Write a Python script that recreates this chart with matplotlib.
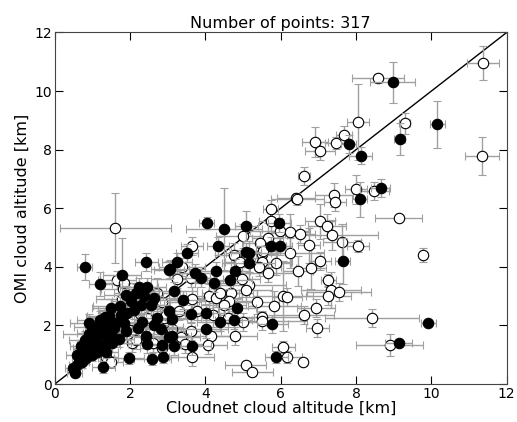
#!/usr/bin/env python3
"""OMI vs Cloudnet cloud altitude scatter with error bars."""

import matplotlib
matplotlib.use("Agg")
import matplotlib.pyplot as plt

# open circles (x, y, xerr, yerr) [km]
open_x = [11.37, 8.58, 8.05, 9.29, 11.35, 8.00, 8.47, 9.13, 8.05, 9.79, 8.42, 8.89,
          1.61, 7.68, 6.91, 7.47, 7.05, 6.62, 7.41, 6.41, 5.73, 5.73, 6.44, 7.44,
          7.04, 7.23, 7.37, 4.99, 5.99, 6.25, 6.52, 5.65, 7.62, 5.46, 6.25, 6.75,
          5.49, 5.49, 5.41, 5.88, 5.65, 7.04, 6.46, 6.81, 7.26, 7.34, 7.55, 7.26,
          5.15, 5.36, 5.83, 6.07, 6.17, 6.94, 6.62, 5.51, 5.49, 6.97, 6.07, 6.17,
          6.60, 5.07, 5.25, 3.64, 4.75, 5.07, 4.91, 5.54, 3.38, 3.62, 3.25, 4.96,
          5.07, 2.85, 3.64, 4.09, 4.27, 4.40, 4.67, 4.62, 4.49, 3.30, 3.77, 4.20,
          4.59, 5.01, 2.90, 3.11, 3.61, 4.14, 4.78, 3.35, 3.46, 4.06, 3.64, 1.66,
          1.82, 1.79, 2.72, 1.64, 2.06, 2.45, 2.90, 2.06, 2.16, 2.61, 2.85, 1.37,
          1.50, 1.85, 2.96]
open_y = [10.96, 10.44, 8.94, 8.90, 7.78, 6.65, 6.59, 5.67, 4.70, 4.40, 2.25, 1.33,
          5.32, 8.50, 8.26, 8.22, 7.95, 7.10, 6.45, 6.35, 5.97, 5.56, 6.31, 6.21,
          5.56, 5.39, 5.09, 5.05, 5.22, 5.19, 5.12, 4.98, 4.85, 4.81, 4.47, 4.74,
          4.44, 4.16, 3.99, 4.13, 3.79, 4.20, 3.86, 3.96, 3.55, 3.21, 3.14, 3.00,
          3.38, 2.80, 2.66, 3.00, 2.97, 2.59, 2.35, 2.29, 2.15, 1.91, 1.26, 0.92,
          0.75, 0.65, 0.41, 4.71, 4.40, 4.30, 4.16, 4.54, 3.99, 3.62, 3.58, 3.58,
          3.21, 2.80, 2.90, 3.00, 2.94, 3.11, 3.11, 2.83, 2.70, 2.49, 2.49, 2.35,
          2.25, 2.12, 1.95, 1.88, 1.81, 1.64, 1.64, 1.60, 1.37, 1.33, 0.92, 3.55,
          3.24, 2.90, 3.11, 2.53, 2.18, 2.25, 2.25, 1.40, 1.50, 1.40, 1.23, 0.92,
          0.75, 3.45, 2.35]
open_xerr = [0.42, 0.70, 0.30, 0.15, 0.45, 0.30, 0.40, 0.62, 0.30, 0.10, 1.25, 0.90,
             1.48, 0.20, 0.35, 0.30, 0.40, 0.15, 0.50, 0.50, 0.20, 0.30, 0.70, 0.30,
             0.40, 0.50, 1.20, 0.70, 0.80, 0.50, 0.40, 0.40, 0.50, 0.50, 0.90, 0.30,
             0.40, 0.80, 0.60, 0.40, 0.90, 0.30, 0.40, 0.40, 0.20, 0.80, 0.85, 0.60,
             1.00, 0.60, 0.70, 0.80, 0.40, 0.50, 0.80, 1.00, 1.20, 0.30, 0.30, 0.40,
             0.10, 0.55, 0.55, 0.30, 0.50, 0.40, 0.40, 0.40, 0.60, 0.50, 0.70, 0.50,
             0.70, 0.80, 0.60, 0.60, 0.70, 0.50, 0.60, 0.80, 0.60, 0.50, 0.60, 0.50,
             0.70, 0.60, 0.50, 0.60, 0.80, 0.70, 0.60, 0.50, 0.60, 0.50, 0.60, 0.50,
             0.60, 0.70, 0.60, 0.50, 0.40, 0.50, 0.60, 0.50, 0.40, 0.50, 0.60, 0.30,
             0.30, 0.60, 0.50]
open_yerr = [0.58, 0.15, 1.30, 0.35, 0.65, 0.50, 0.30, 0.10, 0.20, 0.25, 0.30, 0.37,
             1.20, 0.30, 0.50, 0.20, 0.30, 0.30, 0.40, 0.15, 0.30, 0.40, 0.20, 0.30,
             0.60, 0.40, 0.50, 0.40, 0.40, 0.60, 0.30, 0.50, 0.60, 0.40, 0.50, 0.60,
             0.30, 0.30, 0.30, 0.40, 0.30, 0.30, 0.50, 0.70, 0.20, 0.60, 0.30, 0.30,
             0.40, 0.40, 0.50, 1.20, 0.30, 0.30, 0.30, 0.20, 0.30, 0.30, 0.20, 0.20,
             0.10, 0.10, 0.15, 0.30, 0.40, 0.30, 0.40, 0.40, 0.30, 0.30, 0.30, 0.60,
             0.40, 0.30, 0.40, 0.40, 0.30, 0.40, 0.30, 0.40, 0.50, 0.30, 0.30, 0.40,
             0.30, 0.30, 0.30, 0.30, 0.30, 0.30, 0.30, 0.30, 0.30, 0.30, 0.30, 0.30,
             0.40, 0.40, 0.50, 0.30, 0.30, 0.30, 0.30, 0.30, 0.30, 0.30, 0.30, 0.20,
             0.20, 0.30, 0.30]

# filled circles (x, y, xerr, yerr) [km]
filled_x = [8.97, 10.16, 9.16, 7.81, 8.12, 8.66, 8.10, 9.92, 9.13, 4.49, 4.04, 5.09,
            5.96, 5.73, 5.99, 5.15, 5.15, 7.65, 5.78, 5.88, 4.33, 3.51, 5.07, 3.25,
            3.06, 3.72, 3.88, 4.27, 4.78, 4.64, 4.22, 3.17, 3.40, 4.83, 3.03, 4.01,
            3.61, 4.38, 4.75, 2.64, 2.82, 4.01, 3.11, 2.85, 3.17, 3.64, 2.88, 2.59,
            0.79, 2.43, 1.79, 1.21, 3.03, 2.16, 2.37, 1.72, 2.03, 2.30, 2.11, 2.56,
            1.77, 1.45, 1.85, 2.32, 2.72, 1.37, 1.58, 1.50, 0.92, 1.24, 1.11, 0.79,
            0.98, 0.79, 1.11, 1.32, 1.53, 2.43, 2.45, 3.03, 1.37, 1.98, 1.29, 0.98,
            0.84, 0.71, 0.58, 0.48, 0.53, 0.87, 1.13, 1.00, 1.19, 1.32, 1.50, 1.93,
            1.90, 2.24, 2.45, 2.64, 3.11, 0.60, 0.70, 1.00, 0.90, 1.20, 1.60, 1.70,
            1.90, 2.20, 0.65, 1.40]
filled_y = [10.30, 8.87, 8.36, 8.19, 7.80, 6.69, 6.30, 2.08, 1.40, 5.30, 5.50, 5.39,
            5.49, 4.71, 4.71, 4.47, 4.13, 4.20, 2.05, 0.92, 4.71, 4.47, 4.50, 4.16,
            3.92, 3.79, 3.62, 3.86, 3.86, 3.55, 3.45, 3.17, 2.87, 2.59, 2.49, 2.42,
            2.39, 2.12, 2.18, 2.01, 1.88, 1.88, 1.64, 1.33, 1.30, 1.30, 0.92, 0.85,
            3.99, 4.16, 3.72, 3.41, 3.89, 3.11, 3.00, 2.66, 2.83, 2.70, 2.53, 2.70,
            2.35, 2.32, 2.08, 2.12, 2.25, 2.01, 1.91, 1.74, 1.71, 1.74, 1.57, 1.50,
            1.33, 1.23, 1.26, 1.33, 1.40, 1.64, 1.37, 1.60, 1.09, 0.89, 0.58, 0.99,
            0.89, 0.75, 0.65, 0.55, 0.38, 1.16, 1.09, 1.95, 2.18, 2.29, 2.59, 2.42,
            3.04, 3.31, 3.31, 2.94, 2.22, 1.00, 1.30, 1.75, 2.10, 1.90, 2.10, 1.55,
            1.80, 1.90, 0.90, 1.55]
filled_xerr = [0.60, 0.20, 0.15, 0.20, 0.30, 0.25, 0.20, 0.20, 0.35, 1.00, 0.20, 0.30,
               0.30, 0.40, 0.30, 0.60, 0.70, 0.20, 0.40, 0.30, 0.30, 0.30, 0.40, 0.40,
               0.50, 0.60, 0.40, 0.50, 0.40, 0.60, 0.50, 0.60, 0.60, 0.50, 0.60, 0.50,
               0.60, 0.60, 0.50, 0.50, 0.40, 0.60, 0.50, 0.50, 0.40, 0.50, 0.40, 0.50,
               0.20, 0.30, 0.50, 0.30, 0.40, 0.60, 0.50, 0.70, 0.50, 0.60, 0.50, 0.50,
               0.60, 0.60, 0.50, 0.50, 0.50, 0.50, 0.50, 0.40, 0.70, 0.50, 0.40, 0.40,
               0.40, 0.30, 0.40, 0.40, 0.50, 0.50, 0.50, 0.50, 0.30, 0.40, 0.30, 0.30,
               0.30, 0.20, 0.20, 0.20, 0.20, 0.30, 0.30, 0.50, 0.60, 0.50, 0.50, 0.50,
               0.60, 0.50, 0.50, 0.60, 0.50, 0.30, 0.30, 0.40, 0.50, 0.40, 0.50, 0.40,
               0.50, 0.50, 0.20, 0.40]
filled_yerr = [0.70, 0.80, 0.55, 0.30, 0.30, 0.30, 0.60, 0.10, 0.10, 1.40, 0.20, 0.50,
               0.30, 0.30, 0.30, 0.40, 0.30, 0.80, 0.30, 0.20, 0.30, 0.30, 0.30, 0.30,
               0.30, 0.30, 0.30, 0.30, 0.40, 0.30, 0.30, 0.30, 0.30, 0.30, 0.30, 0.30,
               0.30, 0.30, 0.30, 0.30, 0.30, 0.30, 0.30, 0.30, 0.30, 0.30, 0.20, 0.20,
               0.45, 0.30, 1.25, 0.40, 0.30, 0.30, 0.30, 0.30, 0.30, 0.30, 0.30, 0.30,
               0.30, 0.30, 0.30, 0.30, 0.30, 0.30, 0.30, 0.30, 0.30, 0.30, 0.30, 0.30,
               0.20, 0.20, 0.20, 0.20, 0.30, 0.30, 0.30, 0.30, 0.20, 0.20, 0.20, 0.20,
               0.20, 0.20, 0.10, 0.10, 0.10, 0.20, 0.20, 0.30, 0.30, 0.30, 0.30, 0.30,
               0.30, 0.30, 0.30, 0.30, 0.30, 0.20, 0.20, 0.30, 0.30, 0.30, 0.30, 0.30,
               0.30, 0.30, 0.20, 0.30]

n_points = 317
ticks = [0, 2, 4, 6, 8, 10, 12]


def main() -> None:
    fig = plt.figure(figsize=(5.17, 4.22), dpi=100)
    ax = fig.add_axes([0.106, 0.09, 0.874, 0.833])

    ax.plot([0, 12], [0, 12], color="black", lw=1.0, zorder=1)

    common = dict(fmt="o", ms=7.5, mew=0.8, mec="black", ecolor="#a0a0a0",
                  elinewidth=1.0, capsize=3, capthick=1.0)
    ax.errorbar(open_x, open_y, xerr=open_xerr, yerr=open_yerr,
                mfc="white", zorder=2, **common)
    ax.errorbar(filled_x, filled_y, xerr=filled_xerr, yerr=filled_yerr,
                mfc="black", zorder=3, **common)

    ax.set_xlim(0, 12)
    ax.set_ylim(0, 12)
    ax.set_xticks(ticks)
    ax.set_yticks(ticks)
    ax.tick_params(direction="in", top=True, right=True, length=6,
                   labelsize=10, pad=2)
    for sp in ax.spines.values():
        sp.set_color("#444444")
    ax.set_xlabel("Cloudnet cloud altitude [km]", fontsize=11.5, labelpad=0)
    ax.set_ylabel("OMI cloud altitude [km]", fontsize=11.5, labelpad=3)
    ax.set_title(f"Number of points: {n_points}", fontsize=11.5, pad=3)

    fig.savefig("out.png", dpi=100)


if __name__ == "__main__":
    main()
